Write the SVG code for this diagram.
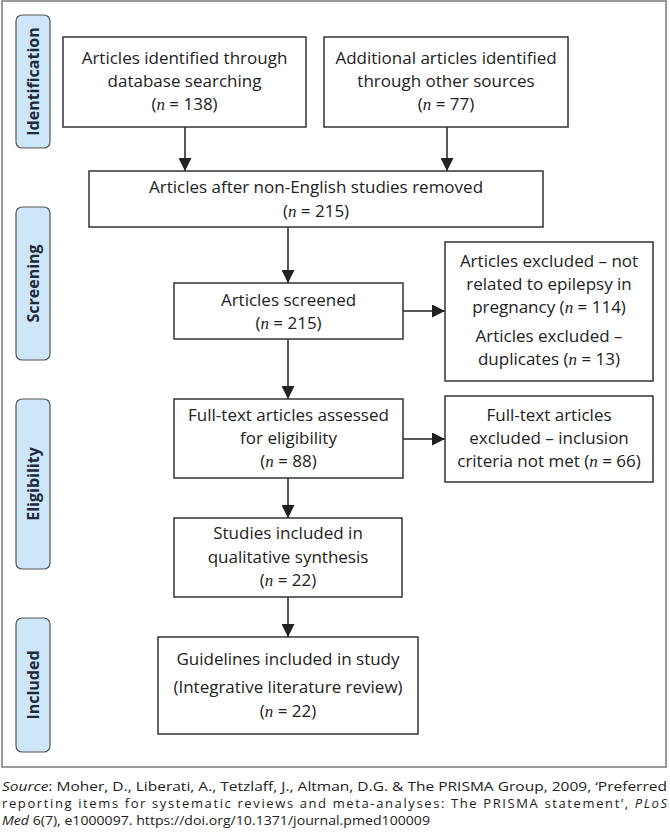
<svg xmlns="http://www.w3.org/2000/svg" width="670" height="836" viewBox="0 0 670 836">
<defs>
<style>
.frame{fill:#fff;stroke:#7a7a7a;stroke-width:1.5}
.box{fill:#fff;stroke:#333;stroke-width:1.5}
.side{fill:#cde6f8;stroke:#555;stroke-width:1.2}
.t{font-family:"Open Sans","DejaVu Sans",sans-serif;font-size:17px;fill:#222;text-anchor:middle}
.st{font-family:"Open Sans","DejaVu Sans",sans-serif;font-size:16px;font-weight:bold;fill:#1e2a3a;text-anchor:middle}
.n{font-family:"Liberation Serif","DejaVu Serif",serif;font-style:italic}
.cap{font-family:"Open Sans","DejaVu Sans",sans-serif;font-size:13px;fill:#222}
.line{stroke:#222;stroke-width:1.5;fill:none;marker-end:url(#ah)}
</style>
<marker id="ah" markerUnits="userSpaceOnUse" markerWidth="13" markerHeight="13" viewBox="0 0 10 10" refX="10" refY="5" orient="auto">
<path d="M0,0 L10,5 L0,10 z" fill="#222"/>
</marker>
</defs>
<rect class="frame" x="2" y="1" width="664" height="766"/>

<g id="side-identification">
<rect class="side" x="16" y="15" width="34" height="133" rx="6"/>
<text class="st" transform="translate(39,81.5) rotate(-90)">Identification</text>
</g>
<g id="side-screening">
<rect class="side" x="16" y="207" width="34" height="153" rx="6"/>
<text class="st" transform="translate(39,283.5) rotate(-90)">Screening</text>
</g>
<g id="side-eligibility">
<rect class="side" x="16" y="399" width="34" height="170" rx="6"/>
<text class="st" transform="translate(39,484) rotate(-90)">Eligibility</text>
</g>
<g id="side-included">
<rect class="side" x="16" y="618" width="34" height="134" rx="6"/>
<text class="st" transform="translate(39,685) rotate(-90)">Included</text>
</g>

<g id="connectors">
<line class="line" x1="185" y1="127" x2="185" y2="171"/>
<line class="line" x1="447" y1="127" x2="447" y2="171"/>
<line class="line" x1="288" y1="227" x2="288" y2="283"/>
<line class="line" x1="403" y1="311" x2="445" y2="311"/>
<line class="line" x1="288" y1="339" x2="288" y2="399"/>
<line class="line" x1="403" y1="439" x2="445" y2="439"/>
<line class="line" x1="288" y1="478" x2="288" y2="518"/>
<line class="line" x1="288" y1="597" x2="288" y2="637"/>
</g>

<g id="node-database">
<rect class="box" x="63" y="37" width="243" height="90"/>
<text class="t" x="184.5" y="64">Articles identified through</text>
<text class="t" x="184.5" y="87">database searching</text>
<text class="t" x="184.5" y="110">(<tspan class="n">n</tspan> = 138)</text>
</g>
<g id="node-other">
<rect class="box" x="324" y="37" width="244" height="90"/>
<text class="t" x="446" y="64">Additional articles identified</text>
<text class="t" x="446" y="87">through other sources</text>
<text class="t" x="446" y="110">(<tspan class="n">n</tspan> = 77)</text>
</g>
<g id="node-nonenglish">
<rect class="box" x="89" y="171" width="454" height="56"/>
<text class="t" x="316" y="193">Articles after non-English studies removed</text>
<text class="t" x="316" y="217">(<tspan class="n">n</tspan> = 215)</text>
</g>
<g id="node-screened">
<rect class="box" x="174" y="283" width="229" height="56"/>
<text class="t" x="288.5" y="306">Articles screened</text>
<text class="t" x="288.5" y="329">(<tspan class="n">n</tspan> = 215)</text>
</g>
<g id="node-excluded1">
<rect class="box" x="445" y="242" width="208" height="139"/>
<text class="t" x="549" y="267">Articles excluded – not</text>
<text class="t" x="549" y="290">related to epilepsy in</text>
<text class="t" x="549" y="313">pregnancy (<tspan class="n">n</tspan> = 114)</text>
<text class="t" x="549" y="342">Articles excluded –</text>
<text class="t" x="549" y="365">duplicates (<tspan class="n">n</tspan> = 13)</text>
</g>
<g id="node-fulltext">
<rect class="box" x="174" y="399" width="229" height="79"/>
<text class="t" x="288.5" y="421">Full-text articles assessed</text>
<text class="t" x="288.5" y="444">for eligibility</text>
<text class="t" x="288.5" y="467">(<tspan class="n">n</tspan> = 88)</text>
</g>
<g id="node-excluded2">
<rect class="box" x="445" y="396" width="208" height="86"/>
<text class="t" x="549" y="421">Full-text articles</text>
<text class="t" x="549" y="444">excluded – inclusion</text>
<text class="t" x="549" y="467">criteria not met (<tspan class="n">n</tspan> = 66)</text>
</g>
<g id="node-studies">
<rect class="box" x="174" y="518" width="228" height="79"/>
<text class="t" x="288" y="539">Studies included in</text>
<text class="t" x="288" y="563">qualitative synthesis</text>
<text class="t" x="288" y="586">(<tspan class="n">n</tspan> = 22)</text>
</g>
<g id="node-guidelines">
<rect class="box" x="158" y="637" width="260" height="97"/>
<text class="t" x="288" y="665">Guidelines included in study</text>
<text class="t" x="288" y="693">(Integrative literature review)</text>
<text class="t" x="288" y="717">(<tspan class="n">n</tspan> = 22)</text>
</g>

<g id="caption">
<text class="cap" x="2" y="791" textLength="665" lengthAdjust="spacingAndGlyphs"><tspan font-style="italic">Source</tspan>: Moher, D., Liberati, A., Tetzlaff, J., Altman, D.G. &amp; The PRISMA Group, 2009, ‘Preferred</text>
<text class="cap" x="2" y="808" textLength="665" lengthAdjust="spacing">reporting items for systematic reviews and meta-analyses: The PRISMA statement’, <tspan font-style="italic">PLoS</tspan></text>
<text class="cap" x="2" y="825" textLength="428" lengthAdjust="spacingAndGlyphs"><tspan font-style="italic">Med</tspan> 6(7), e1000097. https://doi.org/10.1371/journal.pmed100009</text>
</g>
</svg>
